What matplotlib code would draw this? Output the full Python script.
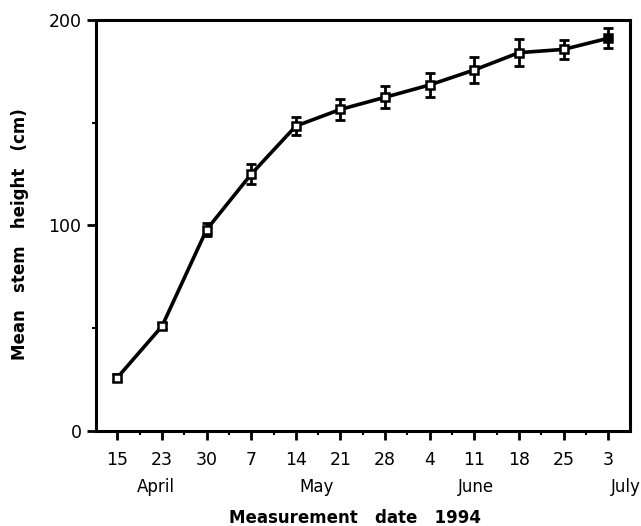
import matplotlib
matplotlib.use("Agg")
import matplotlib.pyplot as plt
from matplotlib.ticker import FixedLocator, MultipleLocator
import matplotlib.transforms as mtransforms

plt.rcParams['font.family'] = ['DejaVu Sans']

# Data
date_labels = ["15", "23", "30", "7", "14", "21", "28", "4", "11", "18", "25", "3"]
heights = [26, 51, 98, 125, 148.4, 156.5, 162.4, 168.4, 175.7, 184.1, 185.7, 191.1]
errors = [1.5, 1.5, 3, 4.9, 4.4, 5.2, 5.4, 6.0, 6.4, 6.5, 4.5, 4.9]
months = ["April", "May", "June", "July"]
month_pos = [0.87, 4.47, 8.04, 11.4]
y_ticks = [0, 100, 200]

x = list(range(len(heights)))

W, H = 641, 526
fig = plt.figure(figsize=(W / 100, H / 100), dpi=100)
ax = fig.add_axes([96 / W, 1 - 431 / H, (630 - 96) / W, (431 - 20) / H])

ax.errorbar(x, heights, yerr=errors, color='black', lw=2.6, capsize=3.5,
            capthick=2, elinewidth=2, zorder=2, marker=None)
ax.plot(x[:-1], heights[:-1], 's', ms=5.5, mfc='white', mec='black', mew=1.8, zorder=3)
ax.plot(x[-1:], heights[-1:], 's', ms=5.5, mfc='black', mec='black', mew=1.8, zorder=3)

ax.set_xlim(-0.48, 11.49)
ax.set_ylim(0, 200)
ax.set_xticks(x)
ax.set_xticklabels(date_labels, fontsize=12.5)
ax.xaxis.set_minor_locator(FixedLocator([i + 0.5 for i in range(-1, 12)]))
ax.set_yticks(y_ticks)
ax.set_yticklabels([str(v) for v in y_ticks], fontsize=12.5)
ax.yaxis.set_minor_locator(MultipleLocator(50))

ax.tick_params(axis='both', which='major', direction='out', length=6.5, width=2)
ax.tick_params(axis='x', which='major', pad=8)
ax.tick_params(axis='y', which='major', pad=4)
ax.tick_params(axis='both', which='minor', direction='out', length=3, width=1.5)
for s in ax.spines.values():
    s.set_linewidth(2.2)

trans = mtransforms.blended_transform_factory(ax.transData, fig.transFigure)
for m, p in zip(months, month_pos):
    ax.text(p, 1 - 492 / H, m, transform=trans, ha='center', va='baseline', fontsize=12)

fig.text(355 / W, 1 - 523 / H, "Measurement   date   1994", ha='center', va='baseline',
         fontsize=12, fontweight='bold')
fig.text(20 / W, 1 - 234 / H, "Mean   stem   height   (cm)", ha='center', va='center',
         rotation=90, fontsize=12, fontweight='bold')

fig.savefig("out.png", dpi=100)
